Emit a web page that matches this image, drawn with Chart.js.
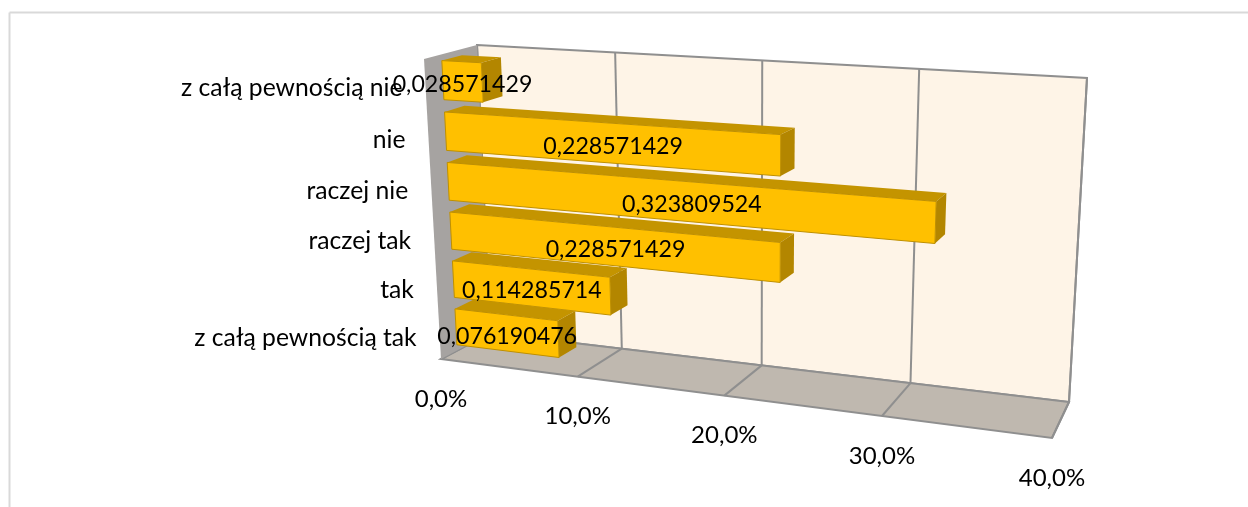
<!DOCTYPE html>
<html>
<head>
<meta charset="utf-8">
<script src="https://cdn.jsdelivr.net/npm/chart.js@4"></script>
<style>
  html, body { margin: 0; background: #fff; }
  #wrap { position: absolute; left: 0; top: 0; width: 1248px; height: 507px; }
</style>
</head>
<body>
<div id="wrap"><canvas id="chart" width="1248" height="507"></canvas></div>
<script>
const categories = ["z całą pewnością nie", "nie", "raczej nie", "raczej tak", "tak", "z całą pewnością tak"];
const values = [0.028571429, 0.228571429, 0.323809524, 0.228571429, 0.114285714, 0.076190476];
const tickLabels = ["0,0%", "10,0%", "20,0%", "30,0%", "40,0%"];

const TICK_FONT = "24px Lato";
const CATEGORY_FONT = "24.7px Lato";
const VALUE_FONT = "23.2px Lato";
const FRONT_COLOR = "#FFC000";
const TOP_COLOR = "#C49400";
const SIDE_COLOR = "#B38600";
const EDGE_COLOR = "#BF9000";
const WALL_COLOR = "#FEF4E7";
const SIDE_WALL_COLOR = "#A6A3A1";
const FLOOR_COLOR = "#BFB8AF";
const LINE_COLOR = "#8F8F8F";

// corners of the 3D box on screen: top left, top right, bottom right, bottom left
const frontPlane = quad([[424, 59], [1070, 93], [1052, 438], [441, 359]]);
const backPlane = quad([[477, 45], [1087, 78], [1069, 402], [490, 333]]);
const BAR_FRONT = 0.33;
const BAR_BACK = 0.71;

// unit square to quad homography
function quad(p) {
  const [[x0, y0], [x1, y1], [x2, y2], [x3, y3]] = p;
  const sx = x0 - x1 + x2 - x3, sy = y0 - y1 + y2 - y3;
  const dx1 = x1 - x2, dx2 = x3 - x2, dy1 = y1 - y2, dy2 = y3 - y2;
  const den = dx1 * dy2 - dx2 * dy1;
  const g = (sx * dy2 - dx2 * sy) / den;
  const h = (dx1 * sy - sx * dy1) / den;
  const a = x1 - x0 + g * x1, b = x3 - x0 + h * x3;
  const d = y1 - y0 + g * y1, e = y3 - y0 + h * y3;
  return (u, v) => {
    const w = g * u + h * v + 1;
    return [(a * u + b * v + x0) / w, (d * u + e * v + y0) / w];
  };
}

// chart pixel + depth (0 front, 1 back) to screen
function project(chart, px, py, depth) {
  const area = chart.chartArea;
  const u = (px - area.left) / area.width;
  const v = (py - area.top) / area.height;
  const f = frontPlane(u, v), b = backPlane(u, v);
  return [f[0] + (b[0] - f[0]) * depth, f[1] + (b[1] - f[1]) * depth];
}

function face(ctx, pts, fill, stroke, width) {
  ctx.beginPath();
  pts.forEach((p, i) => i ? ctx.lineTo(p[0], p[1]) : ctx.moveTo(p[0], p[1]));
  ctx.closePath();
  ctx.fillStyle = fill;
  ctx.fill();
  if (stroke) {
    ctx.strokeStyle = stroke;
    ctx.lineWidth = width || 1;
    ctx.stroke();
  }
}

function line(ctx, a, b, color, width) {
  ctx.beginPath();
  ctx.moveTo(a[0], a[1]);
  ctx.lineTo(b[0], b[1]);
  ctx.strokeStyle = color;
  ctx.lineWidth = width;
  ctx.stroke();
}

function drawBox(chart, ctx) {
  const { left: l, right: r, top: t, bottom: b } = chart.chartArea;
  const P = (x, y, d) => project(chart, x, y, d);

  face(ctx, [P(l, t, 1), P(r, t, 1), P(r, b, 1), P(l, b, 1)], WALL_COLOR, LINE_COLOR, 2);
  face(ctx, [P(l, b, 0), P(r, b, 0), P(r, b, 1), P(l, b, 1)], FLOOR_COLOR, LINE_COLOR, 2);

  chart.scales.x.ticks.forEach(tick => {
    const x = chart.scales.x.getPixelForValue(tick.value);
    line(ctx, P(x, t, 1), P(x, b, 1), LINE_COLOR, 2);
    line(ctx, P(x, b, 1), P(x, b, 0), LINE_COLOR, 2);
  });

  face(ctx, [P(l, t, 0), P(l, t, 1), P(l, b, 1), P(l, b, 0)], SIDE_WALL_COLOR, null);
}

function drawBars(chart, ctx) {
  const meta = chart.getDatasetMeta(0);
  meta.data.forEach(bar => {
    const { x, y, base, height } = bar.getProps(["x", "y", "base", "height"], true);
    const t = y - height / 2, b = y + height / 2;
    const P = (px, py, d) => project(chart, px, py, d);
    face(ctx, [P(base, t, BAR_FRONT), P(x, t, BAR_FRONT), P(x, t, BAR_BACK), P(base, t, BAR_BACK)], TOP_COLOR, null);
    face(ctx, [P(x, t, BAR_FRONT), P(x, t, BAR_BACK), P(x, b, BAR_BACK), P(x, b, BAR_FRONT)], SIDE_COLOR, null);
    face(ctx, [P(base, t, BAR_FRONT), P(x, t, BAR_FRONT), P(x, b, BAR_FRONT), P(base, b, BAR_FRONT)], FRONT_COLOR, EDGE_COLOR, 1);
  });
}

function drawTexts(chart, ctx) {
  const { bottom, left } = chart.chartArea;
  const xScale = chart.scales.x, yScale = chart.scales.y;
  ctx.fillStyle = "#000";
  ctx.textBaseline = "middle";

  ctx.font = TICK_FONT;
  ctx.textAlign = "center";
  xScale.ticks.forEach(tick => {
    const p = project(chart, xScale.getPixelForValue(tick.value), bottom, 0);
    ctx.fillText(tick.label, p[0], p[1] + 40);
  });

  ctx.font = CATEGORY_FONT;
  ctx.textAlign = "right";
  categories.forEach((name, i) => {
    const p = project(chart, left, yScale.getPixelForValue(i), 0);
    ctx.fillText(name, p[0] - 23, p[1] + 3);
  });

  ctx.font = VALUE_FONT;
  ctx.textAlign = "center";
  chart.getDatasetMeta(0).data.forEach((bar, i) => {
    const { x, y, base } = bar.getProps(["x", "y", "base"], true);
    const a = project(chart, base, y, BAR_FRONT), b = project(chart, x, y, BAR_FRONT);
    ctx.fillText(String(values[i]).replace(".", ","), (a[0] + b[0]) / 2, (a[1] + b[1]) / 2 + 3);
  });
}

// the box is drawn here instead of the flat bars
const box3d = {
  id: "box3d",
  beforeDatasetsDraw(chart) {
    const ctx = chart.ctx;
    ctx.save();
    drawBox(chart, ctx);
    drawBars(chart, ctx);
    drawTexts(chart, ctx);
    ctx.restore();
    return false;
  }
};

// only the top and left edge of the outer frame are in the picture
const frame = {
  id: "frame",
  beforeDraw(chart) {
    const ctx = chart.ctx;
    ctx.fillStyle = "#fff";
    ctx.fillRect(0, 0, chart.width, chart.height);
    line(ctx, [chart.width, 12.5], [9.5, 12.5], "#D9D9D9", 2);
    line(ctx, [9.5, 12.5], [9.5, chart.height], "#D9D9D9", 2);
  }
};

new Chart(document.getElementById("chart"), {
  type: "bar",
  data: {
    labels: categories,
    datasets: [{ data: values, backgroundColor: FRONT_COLOR, barPercentage: 0.76, categoryPercentage: 1 }]
  },
  options: {
    indexAxis: "y",
    responsive: false,
    animation: false,
    layout: { padding: 0 },
    plugins: { legend: { display: false }, tooltip: { enabled: false } },
    scales: {
      x: { display: false, min: 0, max: 0.4, ticks: { stepSize: 0.1, callback: (v, i) => tickLabels[i] } },
      y: { display: false }
    }
  },
  plugins: [frame, box3d]
});
</script>
</body>
</html>
